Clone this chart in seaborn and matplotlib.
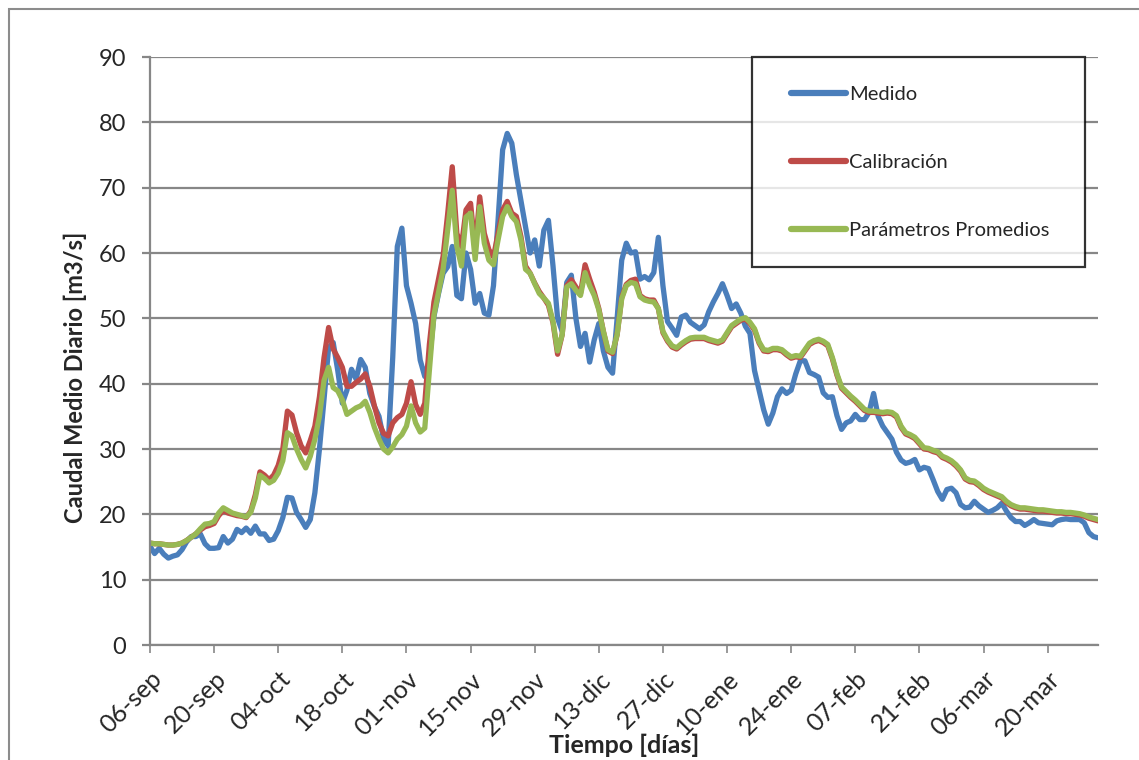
import numpy as np
import pandas as pd
import matplotlib
matplotlib.use("Agg")
import matplotlib.pyplot as plt
import matplotlib.dates as mdates
from matplotlib.ticker import FuncFormatter, MultipleLocator
from matplotlib.patches import Rectangle
from matplotlib.lines import Line2D
from matplotlib.legend_handler import HandlerLine2D
import seaborn as sns

# Daily mean discharge, 06-sep-2011 .. 31-mar-2012
start_date = "2011-09-06"

medido = [
    15.1, 14.0, 14.8, 13.9, 13.3, 13.6, 13.8, 14.6, 15.8, 16.6,
    16.6, 17.0, 15.5, 14.8, 14.8, 14.9, 16.6, 15.6, 16.2, 17.7,
    17.2, 17.9, 17.1, 18.2, 17.0, 17.0, 16.0, 16.2, 17.5, 19.5,
    22.6, 22.5, 20.3, 19.2, 18.0, 19.2, 23.3, 30.0, 37.6, 45.5,
    46.3, 42.0, 37.0, 39.0, 42.2, 40.7, 43.7, 42.5, 38.5, 36.5,
    35.0, 31.5, 30.5, 44.0, 61.0, 63.8, 55.0, 52.3, 49.2, 43.6,
    41.1, 43.6, 50.3, 53.8, 56.9, 57.9, 61.0, 53.5, 53.0, 60.0,
    57.5, 52.3, 53.8, 50.8, 50.5, 55.0, 65.0, 75.8, 78.3, 76.8,
    72.0, 68.0, 64.0, 60.0, 62.0, 58.0, 63.5, 65.0, 58.0, 50.0,
    48.0, 55.5, 56.6, 50.0, 45.7, 47.7, 43.3, 46.7, 49.2, 45.0,
    42.5, 41.6, 50.0, 58.9, 61.5, 60.0, 60.2, 56.0, 56.4, 55.9,
    57.0, 62.4, 55.0, 49.5, 48.5, 47.4, 50.2, 50.5, 49.4, 48.9,
    48.4, 49.0, 51.0, 52.5, 53.8, 55.3, 53.5, 51.5, 52.2, 50.8,
    48.8, 47.7, 42.0, 39.0, 36.0, 33.8, 35.5, 38.0, 39.2, 38.5,
    39.0, 41.5, 43.5, 43.5, 41.7, 41.4, 41.0, 38.6, 37.9, 38.0,
    35.1, 33.0, 34.0, 34.3, 35.3, 34.5, 34.5, 35.6, 38.5, 35.0,
    33.5, 32.5, 31.5, 29.5, 28.3, 27.8, 28.0, 28.4, 26.8, 27.2,
    27.0, 25.3, 23.5, 22.3, 23.8, 24.0, 23.3, 21.5, 21.0, 21.1,
    22.0, 21.3, 20.8, 20.3, 20.6, 21.0, 21.7, 20.5, 19.5, 18.9,
    18.9, 18.3, 18.7, 19.2, 18.7, 18.6, 18.5, 18.4, 19.0, 19.2,
    19.3, 19.2, 19.2, 19.2, 18.7, 17.2, 16.6, 16.4,
]

calibracion = [
    15.6, 15.5, 15.5, 15.4, 15.3, 15.3, 15.4, 15.6, 16.0, 16.5,
    17.0, 17.6, 18.1, 18.3, 18.6, 19.8, 20.6, 20.2, 20.0, 19.8,
    19.7, 19.5, 20.5, 23.0, 26.5, 26.0, 25.3, 26.0, 27.5, 30.0,
    35.8, 35.2, 32.5, 30.5, 29.4, 31.3, 33.5, 38.0, 44.0, 48.6,
    45.3, 44.0, 42.5, 39.6, 39.6, 40.2, 40.7, 41.5, 39.6, 36.6,
    34.0, 32.4, 32.0, 34.0, 34.8, 35.3, 37.0, 40.3, 36.8, 35.3,
    37.0, 46.0, 52.5, 56.0, 59.5, 66.0, 73.2, 63.0, 61.0, 66.6,
    67.6, 60.5, 68.6, 63.0, 60.5, 59.4, 63.0, 66.6, 67.9, 66.1,
    65.6, 62.5, 58.0, 56.9, 55.4, 54.1, 53.1, 52.0, 49.3, 44.5,
    47.5, 55.0, 55.9, 54.8, 53.8, 58.2, 56.0, 54.0, 51.5, 48.0,
    45.0, 44.6, 47.5, 53.2, 55.2, 55.8, 56.0, 53.5, 53.0, 52.8,
    52.8, 51.5, 47.8, 46.5, 45.6, 45.3, 45.9, 46.4, 46.8, 46.9,
    46.9, 46.9, 46.6, 46.4, 46.2, 46.5, 47.6, 48.7, 49.2, 49.7,
    49.9, 49.2, 48.2, 46.2, 45.0, 44.9, 45.2, 45.2, 45.0, 44.4,
    43.9, 44.1, 44.0, 45.0, 46.0, 46.4, 46.6, 46.3, 45.8, 43.8,
    41.3, 39.3, 38.6, 37.9, 37.3, 36.6, 35.9, 35.6, 35.6, 35.5,
    35.4, 35.5, 35.4, 34.9, 33.3, 32.3, 32.0, 31.6, 30.8, 30.0,
    29.9, 29.6, 29.4, 28.7, 28.4, 28.0, 27.4, 26.6, 25.4, 25.0,
    24.9, 24.4, 23.8, 23.4, 23.1, 22.8, 22.5, 21.8, 21.3, 21.0,
    20.8, 20.8, 20.7, 20.6, 20.5, 20.5, 20.4, 20.3, 20.2, 20.2,
    20.1, 20.1, 20.0, 19.9, 19.7, 19.4, 19.2, 19.0,
]

promedios = [
    15.6, 15.5, 15.5, 15.4, 15.3, 15.3, 15.4, 15.6, 16.0, 16.5,
    17.0, 17.8, 18.5, 18.6, 18.9, 20.2, 21.0, 20.6, 20.2, 20.0,
    19.8, 19.6, 20.3, 22.5, 26.0, 25.5, 24.8, 25.2, 26.3, 28.2,
    32.5, 32.0, 30.0, 28.4, 27.1, 28.9, 31.5, 35.0, 40.5, 42.5,
    39.4, 38.9, 37.5, 35.3, 35.8, 36.3, 36.6, 37.3, 35.6, 33.3,
    31.5, 30.0, 29.4, 30.3, 31.5, 32.2, 33.5, 36.6, 34.0, 32.6,
    33.2, 42.0, 50.5, 54.0, 57.5, 63.5, 69.6, 61.0, 58.0, 65.5,
    66.1, 59.0, 67.1, 61.5, 58.9, 58.2, 62.0, 65.6, 67.1, 65.6,
    64.8, 62.0, 57.5, 56.9, 55.3, 53.8, 53.1, 52.3, 49.5, 45.0,
    47.5, 54.8, 55.3, 54.3, 53.5, 57.0, 55.0, 53.5, 51.3, 48.0,
    45.2, 44.8, 47.5, 53.0, 55.0, 55.5, 55.3, 53.3, 52.8, 52.6,
    52.5, 51.5, 48.0, 46.7, 45.8, 45.5, 46.1, 46.6, 47.0, 47.1,
    47.1, 47.1, 46.8, 46.6, 46.4, 46.7, 47.8, 48.9, 49.4, 49.9,
    50.1, 49.4, 48.4, 46.4, 45.2, 45.1, 45.4, 45.4, 45.2, 44.6,
    44.1, 44.3, 44.2, 45.2, 46.2, 46.6, 46.8, 46.5, 46.0, 44.0,
    41.5, 39.5, 38.8, 38.1, 37.5, 36.8, 36.1, 35.8, 35.8, 35.7,
    35.6, 35.7, 35.6, 35.1, 33.5, 32.5, 32.2, 31.8, 31.0, 30.2,
    30.1, 29.8, 29.6, 28.9, 28.6, 28.2, 27.6, 26.8, 25.6, 25.2,
    25.1, 24.6, 24.0, 23.6, 23.3, 23.0, 22.7, 22.0, 21.5, 21.2,
    21.0, 21.0, 20.9, 20.8, 20.7, 20.7, 20.6, 20.5, 20.4, 20.4,
    20.3, 20.3, 20.2, 20.1, 19.9, 19.6, 19.4, 19.2,
]

series_names = ["Medido", "Calibración", "Parámetros Promedios"]
series_colors = ["#4A7EBB", "#BE4B48", "#98B954"]
month_abbr = {9: "sep", 10: "oct", 11: "nov", 12: "dic",
              1: "ene", 2: "feb", 3: "mar", 4: "abr"}

fechas = pd.date_range(start_date, periods=len(medido), freq="D")
wide = pd.DataFrame({"Fecha": fechas,
                     series_names[0]: medido,
                     series_names[1]: calibracion,
                     series_names[2]: promedios})
long = wide.melt(id_vars="Fecha", var_name="Serie", value_name="Caudal")

sns.set_theme(style="white")
plt.rcParams["font.family"] = ["Lato", "DejaVu Sans"]

fig = plt.figure(figsize=(11.39, 7.60), dpi=100)
ax = fig.add_axes([150 / 1139, 1 - 645 / 760, 948 / 1139, 588 / 760])

sns.lineplot(data=long, x="Fecha", y="Caudal", hue="Serie",
             hue_order=series_names, palette=series_colors,
             linewidth=3.8, ax=ax, legend=True)
for line in ax.get_lines():
    line.set_solid_capstyle("round")
    line.set_solid_joinstyle("round")

grid_color = "#878787"
ax.set_ylim(0, 90)
ax.yaxis.set_major_locator(MultipleLocator(10))
ax.set_xlim(fechas[0], fechas[-1])
tick_dates = pd.date_range(start_date, periods=15, freq="14D")
ax.set_xticks(tick_dates)
ax.xaxis.set_major_formatter(FuncFormatter(
    lambda v, pos: (lambda d: f"{d.day:02d}-{month_abbr[d.month]}")(mdates.num2date(v))))

ax.grid(axis="y", color=grid_color, linewidth=1.6)
ax.set_axisbelow(True)
for side in ["top", "right"]:
    ax.spines[side].set_visible(False)
for side in ["left", "bottom"]:
    ax.spines[side].set_color(grid_color)
    ax.spines[side].set_linewidth(1.6)
ax.tick_params(axis="y", direction="out", length=6, width=1.6,
               color=grid_color, labelsize=17, pad=11, left=True)
ax.tick_params(axis="x", direction="out", length=6, width=1.2,
               color=grid_color, labelsize=18, pad=10, bottom=True)
for lbl in ax.get_xticklabels():
    lbl.set_rotation(45)
    lbl.set_ha("right")
    lbl.set_va("top")
    lbl.set_rotation_mode("anchor")

ax.set_xlabel("Tiempo [días]", fontsize=18, fontweight="bold")
ax.xaxis.label.set_va("center")
ax.xaxis.set_label_coords(0.5, (645 - 745) / 588)
ax.set_ylabel("Caudal Medio Diario [m3/s]", fontsize=17, fontweight="bold")
ax.yaxis.label.set_va("center")
ax.yaxis.label.set_ha("center")
ax.yaxis.set_label_coords((75 - 150) / 948, (645 - 377) / 588)

handles, labels = ax.get_legend_handles_labels()
leg = ax.legend(handles, labels, loc="upper left",
                bbox_to_anchor=(602 / 948, 1.0, 333 / 948, 0.0), mode="expand",
                fontsize=14.5, frameon=True, fancybox=False, edgecolor="black",
                borderpad=1.42, labelspacing=2.53, handlelength=3.25,
                handletextpad=0.15, borderaxespad=0.0,
                handler_map={Line2D: HandlerLine2D(xpad=0.5)})
leg.get_frame().set_linewidth(1.6)
for h in leg.get_lines():
    h.set_linewidth(4.5)
    h.set_solid_capstyle("round")

# chart-area outline
fig.patches.append(Rectangle((9 / 1139, -0.1), 1.2, 1.1 - 9 / 760,
                             transform=fig.transFigure, fill=False,
                             edgecolor="#8C8C8C", linewidth=1.5))

fig.savefig("out.png", dpi=100)
